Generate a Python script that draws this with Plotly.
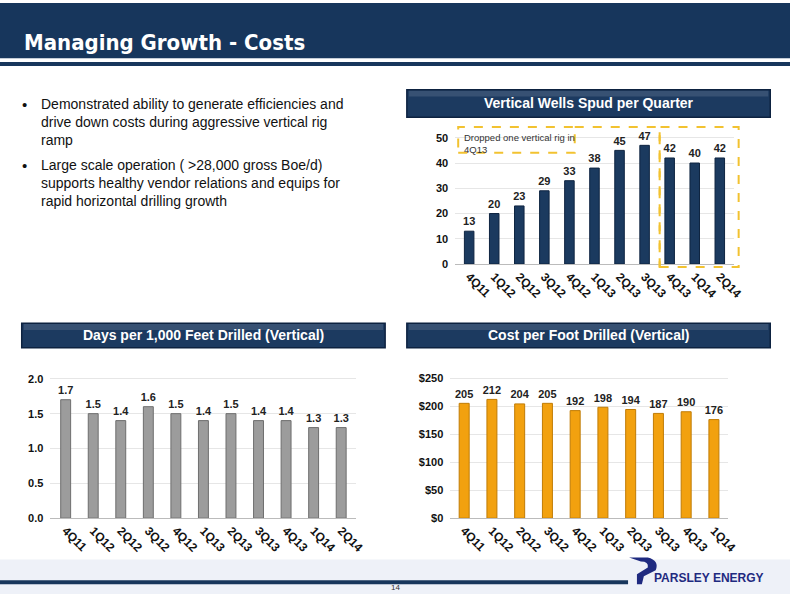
import plotly.graph_objects as go

# ---- data ----
quarters = ["4Q11", "1Q12", "2Q12", "3Q12", "4Q12", "1Q13", "2Q13", "3Q13", "4Q13", "1Q14", "2Q14"]
wells_spud = [13, 20, 23, 29, 33, 38, 45, 47, 42, 40, 42]
days_per_kft = [1.7, 1.5, 1.4, 1.6, 1.5, 1.4, 1.5, 1.4, 1.4, 1.3, 1.3]
cost_quarters = quarters[:10]
cost_per_ft = [205, 212, 204, 205, 192, 198, 194, 187, 190, 176]

W, H = 800, 600
NAVY = "#17365c"
FONT = "Liberation Sans"


def px(x):
    return x / W


def py(y):
    return 1 - y / H


fig = go.Figure()


def bars(x, y, labels, color, edge, width, ax, pad):
    fig.add_trace(go.Bar(x=x, y=y, width=width, marker=dict(color=color, line=dict(color=edge, width=1)),
                         xaxis="x" + ax, yaxis="y" + ax, showlegend=False, hoverinfo="skip"))
    # value labels as a text layer sitting just above each bar
    fig.add_trace(go.Scatter(x=x, y=[v + pad for v in y], mode="text", text=[f"<b>{t}</b>" for t in labels],
                             textposition="top center", textfont=dict(family=FONT, size=11, color="#222"),
                             xaxis="x" + ax, yaxis="y" + ax, showlegend=False, hoverinfo="skip", cliponaxis=False))


bars(quarters, wells_spud, wells_spud, "#1b3a5f", "#0e2440", 0.38, "", 1.2)
bars(quarters, days_per_kft, [f"{v:.1f}" for v in days_per_kft], "#9c9c9c", "#6e6e6e", 0.36, "2", 0.04)
bars(cost_quarters, cost_per_ft, cost_per_ft, "#f2a10f", "#c07c05", 0.36, "3", 5)

tick = dict(family=FONT, size=12, color="#111", weight="bold")
xcommon = dict(tickangle=45, tickfont=tick, showline=True, linecolor="#bbb", showgrid=False, ticks="", fixedrange=True)
ycommon = dict(tickfont=dict(family=FONT, size=11, color="#111", weight="bold"), showgrid=True, gridcolor="#e6e6e6",
               zeroline=False, showline=False, ticks="", ticklabelstandoff=6)

fig.update_layout(
    width=W, height=H, margin=dict(l=0, r=0, t=0, b=0), paper_bgcolor="white", plot_bgcolor="rgba(0,0,0,0)",
    xaxis=dict(domain=[px(461), px(743)], anchor="y", **xcommon),
    yaxis=dict(domain=[py(265), py(124)], range=[0, 55], dtick=10, anchor="x", **ycommon),
    xaxis2=dict(domain=[px(51), px(361)], anchor="y2", **xcommon),
    yaxis2=dict(domain=[py(523), py(378)], range=[0, 2.05], dtick=0.5, tickformat=".1f", anchor="x2", **ycommon),
    xaxis3=dict(domain=[px(456), px(737)], anchor="y3", **xcommon),
    yaxis3=dict(domain=[py(523), py(378)], range=[0, 255], dtick=50, tickprefix="$", anchor="x3", **ycommon),
)

shapes = []
ann = []
# header
shapes.append(dict(type="rect", xref="paper", yref="paper", x0=0, x1=1, y0=py(56), y1=1, fillcolor=NAVY, line_width=0, layer="below"))
shapes.append(dict(type="rect", xref="paper", yref="paper", x0=0, x1=1, y0=py(64), y1=py(60), fillcolor=NAVY, line_width=0, layer="below"))
ann.append(dict(text="<b>Managing Growth - Costs</b>", x=px(22), y=py(40), xanchor="left", yanchor="middle",
                font=dict(family="DejaVu Sans Condensed", size=22, color="white")))

# bullets
bullets = [("Demonstrated ability to generate efficiencies and<br>drive down costs during aggressive vertical rig<br>ramp", 100),
           ("Large scale operation ( >28,000 gross Boe/d)<br>supports healthy vendor relations and equips for<br>rapid horizontal drilling growth", 162)]
for text, y in bullets:
    ann.append(dict(text="•", x=px(20), y=py(y - 8), xanchor="left", yanchor="top", font=dict(family=FONT, size=15, color="#111")))
    ann.append(dict(text=text, x=px(39), y=py(y - 8), xanchor="left", yanchor="top", align="left",
                    font=dict(family=FONT, size=14, color="#111")))

# banners
for x0, x1, y0, y1, title in [(412, 780, 88, 116, "Vertical Wells Spud per Quarter"),
                              (22, 390, 325, 350, "Days per 1,000 Feet Drilled (Vertical)"),
                              (412, 780, 325, 350, "Cost per Foot Drilled (Vertical)")]:
    shapes.append(dict(type="rect", xref="paper", yref="paper", x0=px(x0), x1=px(x1), y0=py(y1), y1=py(y0),
                       fillcolor="#1c3a60", line=dict(color="#0d2240", width=1.5), layer="below"))
    shapes.append(dict(type="rect", xref="paper", yref="paper", x0=px(x0 + 2), x1=px(x1 - 2), y0=py(y0 + 7), y1=py(y0 + 1),
                       fillcolor="rgba(255,255,255,0.12)", line_width=0, layer="below"))
    ann.append(dict(text=f"<b>{title}</b>", x=px((x0 + x1) / 2), y=py((y0 + y1) / 2), xanchor="center", yanchor="middle",
                    font=dict(family=FONT, size=14, color="white")))

# dashed highlight boxes
dash = dict(color="#f2c230", width=2, dash="dash")
shapes.append(dict(type="rect", xref="paper", yref="paper", x0=px(464), x1=px(582), y0=py(152), y1=py(126), line=dash))
shapes.append(dict(type="path", xref="paper", yref="paper",
                   path=f"M {px(582)},{py(126)} L {px(668)},{py(126)} L {px(668)},{py(268)}", line=dash))
shapes.append(dict(type="rect", xref="paper", yref="paper", x0=px(668), x1=px(748), y0=py(268), y1=py(126), line=dash))
ann.append(dict(text="Dropped one vertical rig in<br>4Q13", x=px(468), y=py(129), xanchor="left", yanchor="top", align="left",
                font=dict(family=FONT, size=9.5, color="#333")))

# footer
shapes.append(dict(type="rect", xref="paper", yref="paper", x0=0, x1=1, y0=0, y1=py(565), fillcolor="#eef1f8", line_width=0, layer="below"))
shapes.append(dict(type="rect", xref="paper", yref="paper", x0=0, x1=px(636), y0=py(590), y1=py(586), fillcolor=NAVY, line_width=0))
shapes.append(dict(type="path", xref="paper", yref="paper", fillcolor="#1f2a80", line_width=0,
                   path=f"M {px(637)},{py(563)} L {px(656)},{py(563)} Q {px(668)},{py(566)} {px(664)},{py(576)} "
                        f"L {px(652)},{py(582)} L {px(650)},{py(590)} L {px(645)},{py(590)} L {px(645)},{py(580)} "
                        f"L {px(656)},{py(573)} Q {px(657)},{py(567)} {px(649)},{py(567)} Z"))
ann.append(dict(text="<b>PARSLEY ENERGY</b>", x=px(660), y=py(584), xanchor="left", yanchor="middle",
                font=dict(family=FONT, size=12, color="#1f2a80")))
ann.append(dict(text="14", x=px(400), y=py(593), xanchor="center", yanchor="middle", font=dict(family=FONT, size=8, color="#333")))

for a in ann:
    a.update(xref="paper", yref="paper", showarrow=False)
fig.update_layout(shapes=shapes, annotations=ann)

fig.write_html("out.html", config={"displayModeBar": False},
               post_script="document.body.style.margin='0';document.body.style.overflow='hidden';")
